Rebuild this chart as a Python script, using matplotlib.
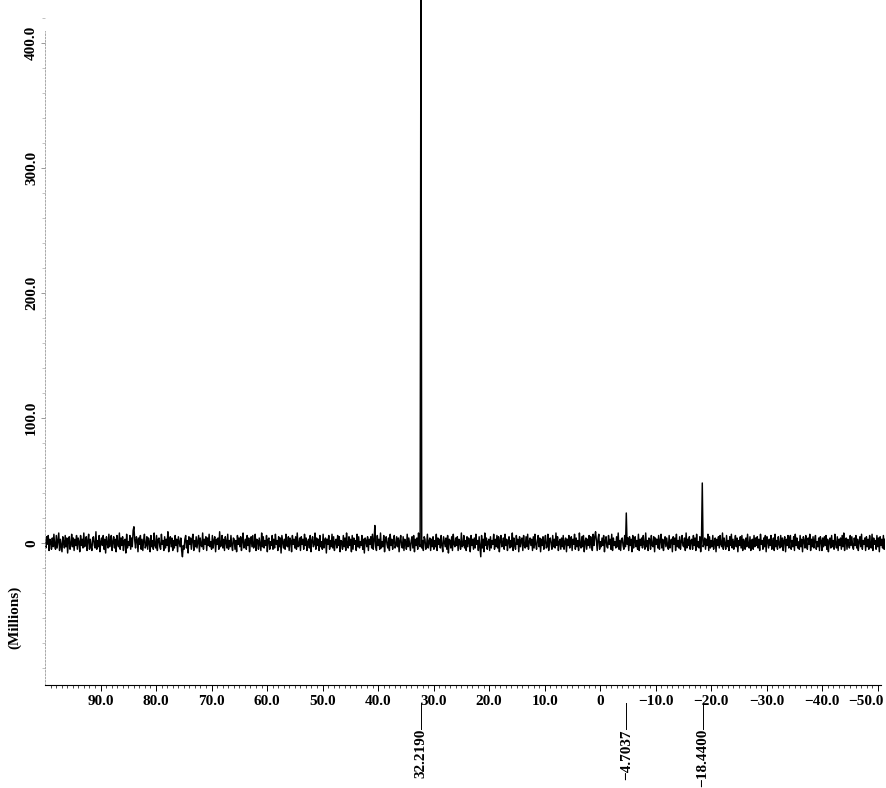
import matplotlib
matplotlib.use('Agg')
import matplotlib.pyplot as plt
from matplotlib.ticker import MultipleLocator, FixedLocator
import matplotlib.transforms as mtransforms
import numpy as np

plt.rcParams['font.family'] = ['Liberation Serif', 'DejaVu Serif']
plt.rcParams['font.weight'] = 'bold'

noise = [
    2, -4, 5, -1, 6, -6, 3, 1, -5, 4, -3, 7, -2, -5, 6, -4, 2, 8, -6, 3, -2, -7, 5, 1, -4, 6, -3, 4, -8, 2, 5, -5, -1, 7, -3, 4, -6, 3, -2, 6,
    -5, 4, 1, -7, 6, -2, 3, -4, 8, -3, -1, 5, -6, 2, 7, -5, 3, -3, -6, 4, 5, -2, -4, 9, -5, 2, -3, 6, -7, 1, 4, -2, 6, -5, 3, -8, 5, 0, -4, 7,
    -3, 2, 6, -6, 1, 5, -4, 3, -7, 6, -1, -3, 8, -5, 4, -2, 5, -6, 2, 3, -8, 7, -4, 1, -2, 6, -5, 4, -3, 10, -6, 2, -4, 5, 3, -7, 4, -1, 6, -5,
    3, -6, 2, 7, -4, -2, 5, -5, 4, 1, -7, 6, -3, 2, -5, 8, -2, -4, 6, -6, 3, 4, -3, -5, 7, -1, 2, -6, 5, -4, 3, -2, 9, -7, 1, 5, -3, 4, -6, 2,
    -4, 6, -2, 3, -7, 5, 1, -3, 4, -6, 8, -2, -5, 3, 6, -4, 2, -8, 5, -1, 4, -5, 3, 7, -6, 2, -3, 5, -4, 1, 6, -7, 4, -2, -3, 8, -5, 3, -1, 5,
    -6, 4, -2, 7, -3, 1, -5, 6, -4, 2, 5, -7, 3, -1, 4, -5, 9, -3, -2, 6, -4, 3, -6, 5, 1, -4, 7, -5, 2, -3, 6, -2, -6, 4, 3, -5, 2, -7, 6, -1,
    4, -3, 5, -6, 2, 8, -4, -1, 3, -5, 6, -2, 4, -7, 1, 5, -3, 6, -4, -2, 7, -6, 3, 2, -5, 4, -1, -6, 8, -3, 5, -4, 2, -2, 6, -7, 3, 4, -5, 1,
    -2, 6, -5, 3, -4, 7, -1, 2, -6, 5, -3, 4, -8, 6, 1, -4, 3, -5, 7, -2, -3, 5, -6, 4, 2, -7, 6, -1, 3, -4, 5, -5, 8, -3, -2, 4, -6, 5, -1, 3,
    -5, 7, -2, 4, -6, 1, 3, -4, 6, -7, 2, 5, -3, -1, 8, -5, 4, -2, 3, -6, 6, -3, 1, -5, 7, -4, 2, 4, -8, 3, -1, 6, -5, 2, -3, 7, -4, 5, -6, 1,
    3, -4, 6, -2, 5, -7, 2, 1, -5, 6, -3, 4, -6, 8, -1, -4, 5, -2, 3, -7, 6, -5, 4, -1, 2, -6, 7, -3, 5, -4, 1, -2, 6, -5, 3, -8, 4, 2, -3, 5,
    -6, 3, -1, 5, -4, 7, -5, 2, 4, -3, -6, 6, -2, 3, -5, 8, -4, 1, -3, 6, -7, 2, 5, -1, -4, 4, -6, 7, -2, 3, -5, 1, 6, -4, -2, 5, -3, 4, -7, 2,
    6, -2, -4, 5, -6, 3, 1, -5, 7, -3, 4, -1, -6, 2, 5, -4, 6, -7, 3, -2, 4, -5, 8, -1, -3, 6, -4, 2, -6, 5, 3, -5, -2, 7, -4, 1, 4, -6, 3, -3,
    5, -5, 2, -3, 7, -6, 4, -1, 3, -4, 6, -2, -7, 5, 1, -3, 4, -5, 6, -8, 3, 2, -4, 5, -6, 7, -1, -3, 4, -2, 5, -6, 3, 1, -5, 8, -3, -2, 6, -4,
    2, -6, 5, -3, 4, 1, -7, 6, -2, 3, -5, 4, -4, 7, -1, 2, -6, 5, -3, -2, 6, -4, 3, -7, 8, -2, 4, -5, 1, 3, -6, 5, -4, 2, -1, 7, -5, 3, -3, 6,
    -4, 5, -7, 2, 6, -3, -1, 4, -5, 7, -2, 3, -6, 1, 5, -4, 2, -3, 8, -6, 4, -2, -5, 6, -1, 3, -7, 5, -3, 2, 4, -6, 6, -2, -4, 5, -3, 7, -5, 1,
    4, -2, 3, -6, 5, -4, 7, -1, -5, 2, 6, -3, 4, -7, 3, -2, 5, -5, 1, 6, -4, -3, 7, -6, 2, 4, -1, -5, 6, -3, 3, -4, 8, -2, 5, -6, 1, 3, -5, 4,
    -3, 6, -5, 1, 4, -7, 3, -2, 6, -4, 2, 5, -6, 3, -1, 7, -5, 4, -3, 2, -6, 8, -2, -4, 5, -3, 6, -7, 1, 4, -5, 3, -2, 6, -4, 5, -1, -6, 7, -2,
    5, -4, 2, -6, 3, 7, -5, 1, -3, 4, -2, 6, -7, 2, 5, -3, -4, 6, -1, 3, -5, 7, -6, 4, -2, 1, -4, 5, -3, 8, -5, 2, -6, 3, 4, -2, -5, 6, -3, 2,
    -1, 4, -6, 5, -2, 3, -7, 6, -4, 1, 5, -3, 2, -5, 7, -6, 3, -2, 4, -4, 6, -1, -5, 8, -3, 2, -6, 4, 3, -5, 6, -2, -3, 5, -7, 4, -1, 3, -4, 6,
    -5, 2, 7, -4, 3, -6, 1, 5, -3, 4, -2, -5, 6, -4, 2, 3, -7, 5, -1, 4, -6, 7, -3, 2, -4, 5, -5, 1, 6, -2, -3, 4, -6, 8, -4, 3, -2, 5, -5, 2,
    3, -5, 6, -2, 4, -6, 7, -3, 1, -4, 5, -7, 2, 6, -3, -1, 4, -5, 3, -2, 7, -6, 5, -4, 2, -3, 6, -5, 1, 4, -7, 3, -2, 5, -4, 6, -1, -3, 8, -5,
    4, -1, -5, 6, -3, 2, -6, 5, -2, 7, -4, 3, -5, 1, 6, -3, 4, -7, 2, -2, 5, -4, 6, -6, 3, 1, -5, 4, -3, 7, -2, -4, 5, -6, 2, 3, -5, 6, -3, 4,
    -2, 5, -4, 3, -6, 7, -1, 2, -5, 4, -3, 6, -7, 5, 2, -4, 3, -2, 6, -5, 1, 4, -6, 7, -3, 2, -5, 5, -1, -4, 6, -3, 4, -6, 2, 5, -7, 3, -2, 6,
    -4, 3, 6, -5, 2, -3, 5, -6, 7, -2, 4, -4, 1, -5, 6, -3, 3, -7, 5, 2, -4, 6, -2, -5, 4, -1, 7, -6, 3, -3, 5, -4, 2, 6, -5, 1, -3, 4, -6, 5,
    2, -6, 4, -3, 5, -2, 6, -5, 3, -7, 1, 4, -4, 6, -3, 2, -5, 7, -1, -4, 5, -6, 3, -2, 4, -5, 6, -3, 8, -6, 2, 4, -5, 3, -1, -4, 6, -2, 5, -3,
    -5, 4, -2, 6, -4, 3, -6, 1, 5, -3, 7, -5, 2, -1, 4, -6, 5, -3, 3, -5, 6, -2, -4, 7, -6, 4, -1, 2, -5, 6, -3, 4, -7, 5, -2, 3, -4, 6, -5, 3,
]
ppm_start, ppm_end = 100.0, -51.3

# peaks and small features (ppm, height in millions)
peak_ppm = [84.0, 75.2, 40.6, 32.219, 21.5, 0.8, -4.7037, -18.44]
peak_height = [13, -11, 14, 470, -11, 9, 24, 48]

# labelled peaks
label_ppm = [32.219, -4.7037, -18.44]
label_text = ['32.2190', '\u22124.7037', '\u221218.4400']

xtick_vals = [90, 80, 70, 60, 50, 40, 30, 20, 10, 0, -10, -20, -30, -40, -50]
xtick_labels = ['90.0', '80.0', '70.0', '60.0', '50.0', '40.0', '30.0', '20.0', '10.0', '0',
                '\u221210.0', '\u221220.0', '\u221230.0', '\u221240.0', '\u221250.0']
ytick_vals = [0, 100, 200, 300, 400]
ytick_labels = ['0', '100.0', '200.0', '300.0', '400.0']

ppm = np.linspace(ppm_start, ppm_end, len(noise))
signal = np.array(noise, dtype=float)
for p, h in zip(peak_ppm, peak_height):
    signal[np.argmin(np.abs(ppm - p))] = h

W, H = 886, 788
fig = plt.figure(figsize=(W / 100, H / 100), dpi=100)
ax = fig.add_axes([45 / W, 1 - 685 / H, 840 / W, 685 / H])
ax.plot(ppm, signal, color='black', lw=1.05)
ax.set_xlim(100.0, -51.3)
ax.set_ylim(-113.6, 434.4)

for s in ['top', 'right']:
    ax.spines[s].set_visible(False)
ax.spines['bottom'].set_linewidth(0.8)
ax.spines['bottom'].set_bounds(100.0, -50.5)
ax.spines['left'].set_color('#999999')
ax.spines['left'].set_linewidth(0.6)
ax.spines['left'].set_linestyle((0, (2, 2)))
ax.spines['left'].set_bounds(-113.6, 410)

ax.xaxis.set_major_locator(FixedLocator(xtick_vals))
ax.set_xticklabels(xtick_labels, fontsize=11, fontweight='bold')
ax.xaxis.set_minor_locator(FixedLocator(np.arange(99, -51, -1)))
ax.tick_params(axis='x', which='major', length=4, width=0.7, pad=3)
ax.tick_params(axis='x', which='minor', length=2, width=0.5)
last = ax.get_xticklabels()[-1]
last.set_horizontalalignment('right')
last.set_transform(last.get_transform() + mtransforms.ScaledTranslation(6 / 100, 0, fig.dpi_scale_trans))

ax.yaxis.set_major_locator(FixedLocator(ytick_vals))
ax.set_yticklabels(ytick_labels, fontsize=11, fontweight='bold', rotation=90, va='center')
ax.yaxis.set_minor_locator(MultipleLocator(20))
ax.tick_params(axis='y', which='major', length=3, width=0.6, color='#888888', pad=2)
ax.tick_params(axis='y', which='minor', length=2, width=0.5, color='#aaaaaa')

fig.text(15 / W, 1 - 617 / H, '(Millions)', rotation=90, fontsize=11,
         fontweight='bold', ha='center', va='center')

trans = mtransforms.blended_transform_factory(ax.transData, fig.transFigure)
for p, t in zip(label_ppm, label_text):
    ax.plot([p, p], [1 - 703 / H, 1 - 729 / H], color='black', lw=0.7,
            transform=trans, clip_on=False)
    ax.text(p, 1 - 729 / H, t, rotation=90, fontsize=11, fontweight='bold',
            ha='center', va='top', transform=trans)

fig.savefig('out.png', dpi=100)
